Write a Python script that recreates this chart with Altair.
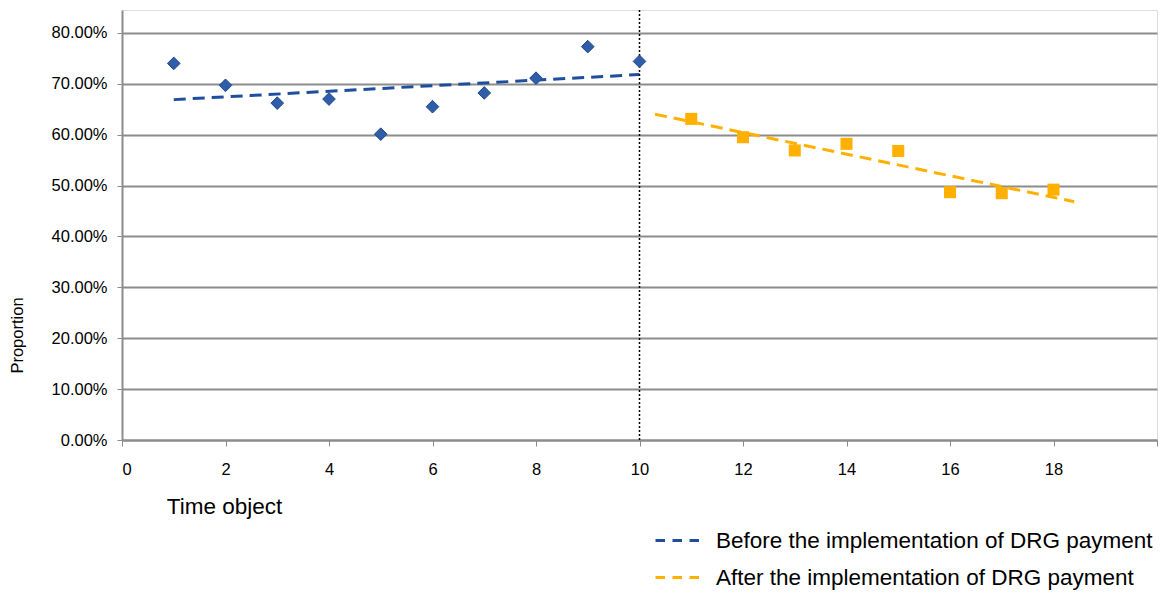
import altair as alt
import pandas as pd

FONT = "Liberation Sans"

before_t = [1, 2, 3, 4, 5, 6, 7, 8, 9, 10]
before_p = [0.740, 0.697, 0.662, 0.670, 0.601, 0.655, 0.682, 0.711, 0.773, 0.744]
after_t = [11, 12, 13, 14, 15, 16, 17, 18]
after_p = [0.631, 0.595, 0.569, 0.582, 0.568, 0.487, 0.485, 0.492]
cut_t = [10]
y_ticks = [0, 0.1, 0.2, 0.3, 0.4, 0.5, 0.6, 0.7, 0.8]
x_ticks = [0, 2, 4, 6, 8, 10, 12, 14, 16, 18, 20]
series_names = ["Before the implementation of DRG payment",
                "After the implementation of DRG payment"]
before_extent = [1, 10]
after_extent = [10.3, 18.4]

BLUE_PT = "#2F5DA8"
BLUE_LINE = "#1F4E9E"
ORANGE = "#FFB000"
GRID = "#8C8C8C"

df_b = pd.DataFrame({"t": before_t, "p": before_p})
df_a = pd.DataFrame({"t": after_t, "p": after_p})
df_cut = pd.DataFrame({"t": cut_t})

x_scale = alt.Scale(domain=[0, 20], nice=False, zero=False)
y_scale = alt.Scale(domain=[0, 0.845], nice=False)

x_axis = alt.Axis(values=x_ticks, labelExpr="datum.value == 20 ? '' : datum.label",
                  grid=False, title="Time object", titleFontSize=22.5, titleFontWeight="normal",
                  titleX=102, titleY=73, titleBaseline="alphabetic", titleAlign="center",
                  labelFontSize=16.5, labelPadding=15, tickSize=6, tickColor=GRID,
                  domainColor=GRID, domainWidth=2, labelColor="black", titleColor="black")
y_axis = alt.Axis(values=y_ticks, format=".2%", grid=True, gridColor=GRID, gridWidth=2,
                  title="Proportion", titleFontSize=16.5, titleFontWeight="normal",
                  titleX=-105, titleY=325, titleBaseline="middle", titleAlign="center",
                  labelFontSize=16.5, labelPadding=10, tickSize=5, tickColor=GRID,
                  domainColor=GRID, domainWidth=2, labelColor="black", titleColor="black")

color_scale = alt.Scale(domain=series_names, range=[BLUE_LINE, ORANGE])
legend = alt.Legend(title=None, orient="none", legendX=532, legendY=507,
                    symbolType="stroke", symbolSize=1936, symbolStrokeWidth=3,
                    symbolDash=[9.5, 7.5], labelFontSize=22.5, labelOffset=15,
                    rowPadding=2, padding=0, labelColor="black", labelLimit=700)

base_b = alt.Chart(df_b)
base_a = alt.Chart(df_a)

trend_b = base_b.transform_regression("t", "p", extent=before_extent).transform_calculate(
    series=f"'{series_names[0]}'"
).mark_line(strokeWidth=3, strokeDash=[12, 7]).encode(
    x=alt.X("t:Q", scale=x_scale, axis=x_axis),
    y=alt.Y("p:Q", scale=y_scale, axis=y_axis),
    color=alt.Color("series:N", scale=color_scale, legend=legend),
)
trend_a = base_a.transform_regression("t", "p", extent=after_extent).transform_calculate(
    series=f"'{series_names[1]}'"
).mark_line(strokeWidth=3, strokeDash=[12, 7]).encode(
    x=alt.X("t:Q", scale=x_scale),
    y=alt.Y("p:Q", scale=y_scale),
    color=alt.Color("series:N", scale=color_scale, legend=legend),
)

pts_b = base_b.mark_point(shape="diamond", filled=True, size=160, color=BLUE_PT,
                          stroke="#1F4A8A", strokeWidth=1, opacity=1).encode(
    x=alt.X("t:Q", scale=x_scale), y=alt.Y("p:Q", scale=y_scale))
pts_a = base_a.mark_point(shape="square", filled=True, size=145, color=ORANGE,
                          opacity=1).encode(
    x=alt.X("t:Q", scale=x_scale), y=alt.Y("p:Q", scale=y_scale))

cut = alt.Chart(df_cut).mark_rule(color="black", strokeWidth=1.5, strokeDash=[2, 2]).encode(
    x=alt.X("t:Q", scale=x_scale))

chart = alt.layer(trend_b, trend_a, cut, pts_b, pts_a).properties(
    width=1035, height=430,
    padding={"top": 1, "left": 1, "right": 0, "bottom": 5},
).configure_view(stroke=None).configure(font=FONT)

chart.save("out.html", embed_options={"renderer": "svg", "actions": False})
